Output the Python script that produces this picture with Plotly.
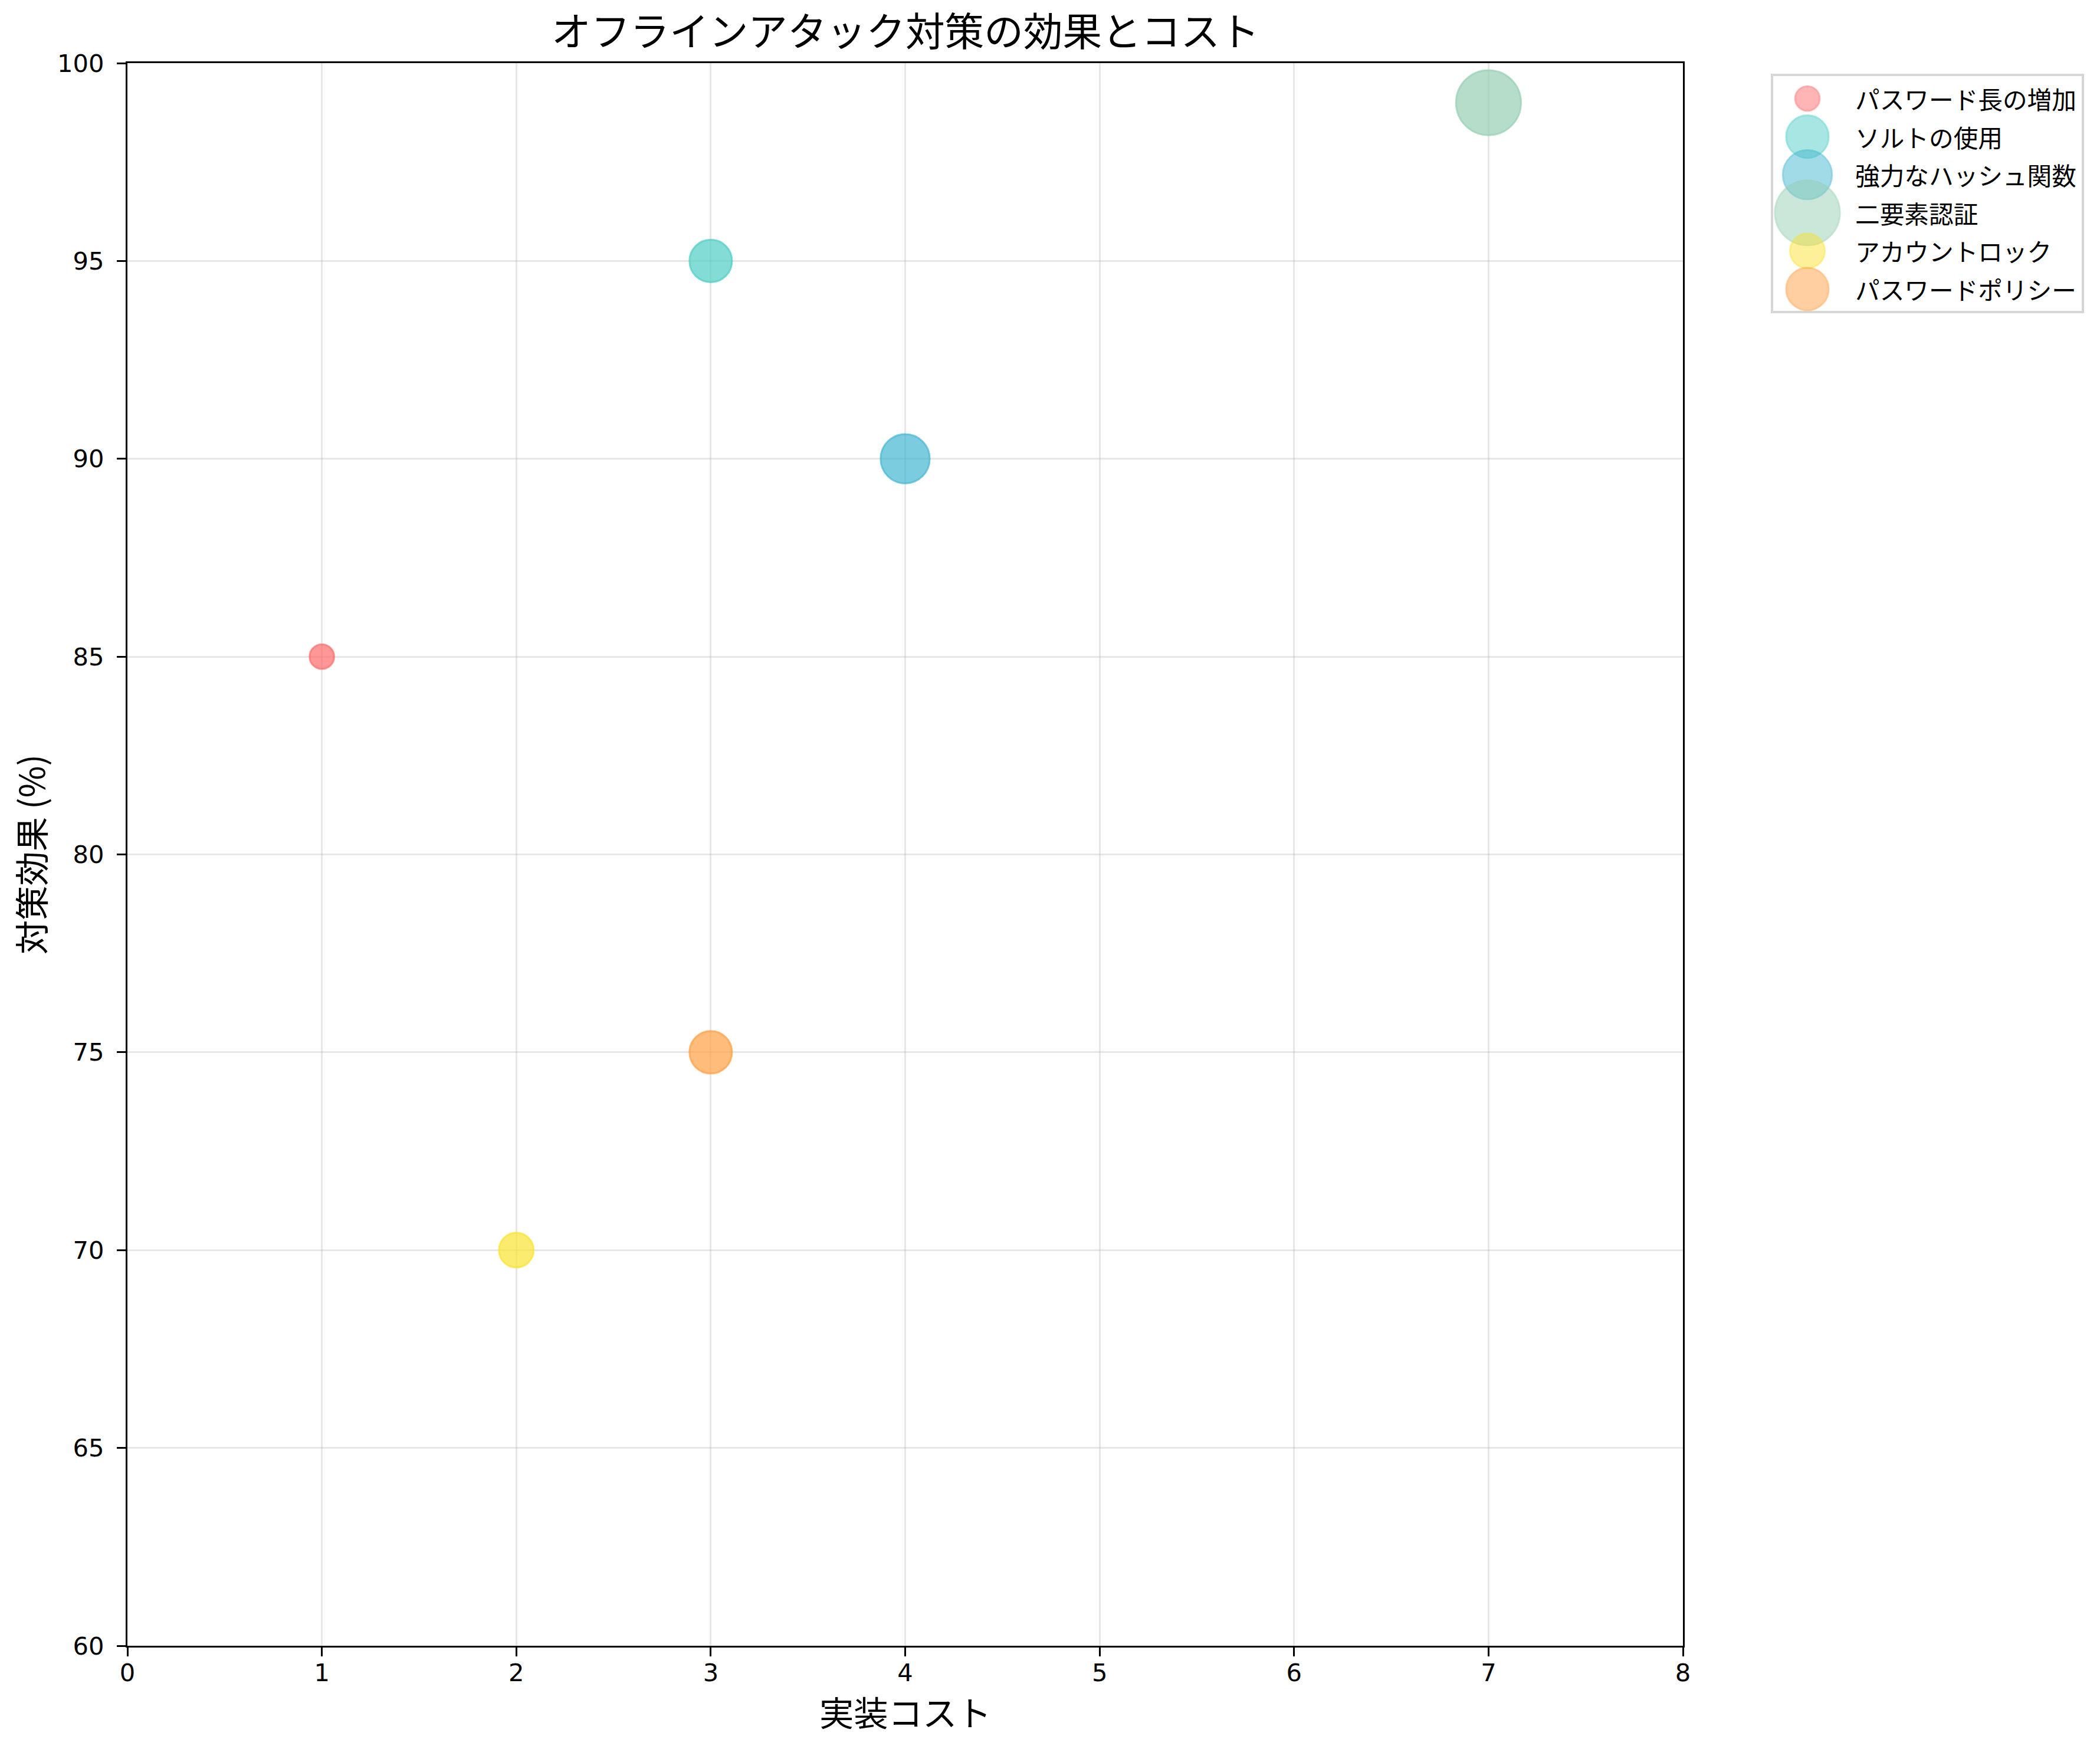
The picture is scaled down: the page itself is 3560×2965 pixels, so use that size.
import plotly.graph_objects as go

# data
measures = ["パスワード長の増加", "ソルトの使用", "強力なハッシュ関数",
            "二要素認証", "アカウントロック", "パスワードポリシー"]
cost = [1, 3, 4, 7, 2, 3]
effect = [85, 95, 90, 99, 70, 75]
bubble = [100, 300, 400, 700, 200, 300]   # matplotlib-style area (pt^2)
colors = ["#FF6B6B", "#4ECDC4", "#45B7D1", "#96CEB4", "#F9E231", "#FF9F43"]

W, H = 3560, 2965
DPI = 300
PT = DPI / 72.0
JP = "Noto Sans CJK JP"
NUM = "DejaVu Sans"


def rgba(hex_color, a):
    h = hex_color.lstrip("#")
    r, g, b = int(h[0:2], 16), int(h[2:4], 16), int(h[4:6], 16)
    return f"rgba({r},{g},{b},{a})"


def diam(s):
    # marker diameter in px from a matplotlib area in pt^2
    return (s ** 0.5) * PT


fig = go.Figure()

for name, c, e, s, col in zip(measures, cost, effect, bubble, colors):
    fig.add_trace(go.Scatter(
        x=[c], y=[e], mode="markers", name=name, showlegend=False,
        marker=dict(size=diam(s), color=rgba(col, 0.7),
                    line=dict(color=rgba(col, 0.7), width=3)),
    ))

# legend drawn on its own small axis so the symbols keep their real sizes
rows = list(range(len(measures)))
fig.add_trace(go.Scatter(
    x=[60] * len(measures), y=rows, mode="markers", showlegend=False,
    xaxis="x2", yaxis="y2", cliponaxis=False, hoverinfo="skip",
    marker=dict(size=[diam(s) for s in bubble],
                color=[rgba(c, 0.7) for c in colors],
                line=dict(color=[rgba(c, 0.7) for c in colors], width=3)),
))
for i, name in zip(rows, measures):
    fig.add_annotation(x=139, y=i, xref="x2", yref="y2", text=name,
                       showarrow=False, xanchor="left", yanchor="middle",
                       font=dict(family=JP, size=10 * PT, color="black"))

fig.add_shape(type="rect", xref="x2 domain", yref="y2 domain",
              x0=0, x1=1, y0=0, y1=1, layer="below",
              line=dict(color="rgba(204,204,204,0.8)", width=4),
              fillcolor="white")

# x axis label
fig.add_annotation(text="実装コスト", xref="paper", yref="paper",
                   x=(2637 / 3315) / 2, y=-110 / 2683, showarrow=False,
                   xanchor="center", yanchor="middle",
                   font=dict(family=JP, size=14 * PT, color="black"))

# title as an annotation just above the axes
fig.add_annotation(text="オフラインアタック対策の効果とコスト",
                   xref="paper", yref="paper",
                   x=(2637 / 3315) / 2, y=1 + 8 / 2683, showarrow=False,
                   xanchor="center", yanchor="bottom",
                   font=dict(family=JP, size=16 * PT, color="black"))

grid = "rgba(176,176,176,0.3)"
fig.update_layout(
    width=W, height=H,
    margin=dict(l=208, r=37, t=99, b=183),
    paper_bgcolor="white", plot_bgcolor="white",
    xaxis=dict(domain=[0, 2637 / 3315], range=[0, 8], dtick=1,
               showgrid=True, gridcolor=grid, gridwidth=3.3, zeroline=False,
               showline=True, mirror=True, linecolor="black", linewidth=3.3,
               ticks="outside", ticklen=15, tickwidth=3.3, tickcolor="black",
               ticklabelstandoff=-8,
               tickfont=dict(family=NUM, size=10 * PT, color="black")),
    yaxis=dict(range=[60, 100], dtick=5,
               showgrid=True, gridcolor=grid, gridwidth=3.3, zeroline=False,
               showline=True, mirror=True, linecolor="black", linewidth=3.3,
               ticks="outside", ticklen=15, tickwidth=3.3, tickcolor="black",
               ticklabelstandoff=13,
               tickfont=dict(family=NUM, size=10 * PT, color="black"),
               title=dict(text="対策効果 (%)", standoff=5,
                          font=dict(family=JP, size=14 * PT, color="black"))),
    xaxis2=dict(domain=[(2996 - 208) / 3315, 1.0], range=[0, 527],
                anchor="y2", visible=False, fixedrange=True),
    yaxis2=dict(domain=[1 - 422 / 2683, 1 - 20 / 2683],
                range=[5.604, -0.619], anchor="x2", visible=False,
                fixedrange=True),
)

fig.write_html("out.html")
